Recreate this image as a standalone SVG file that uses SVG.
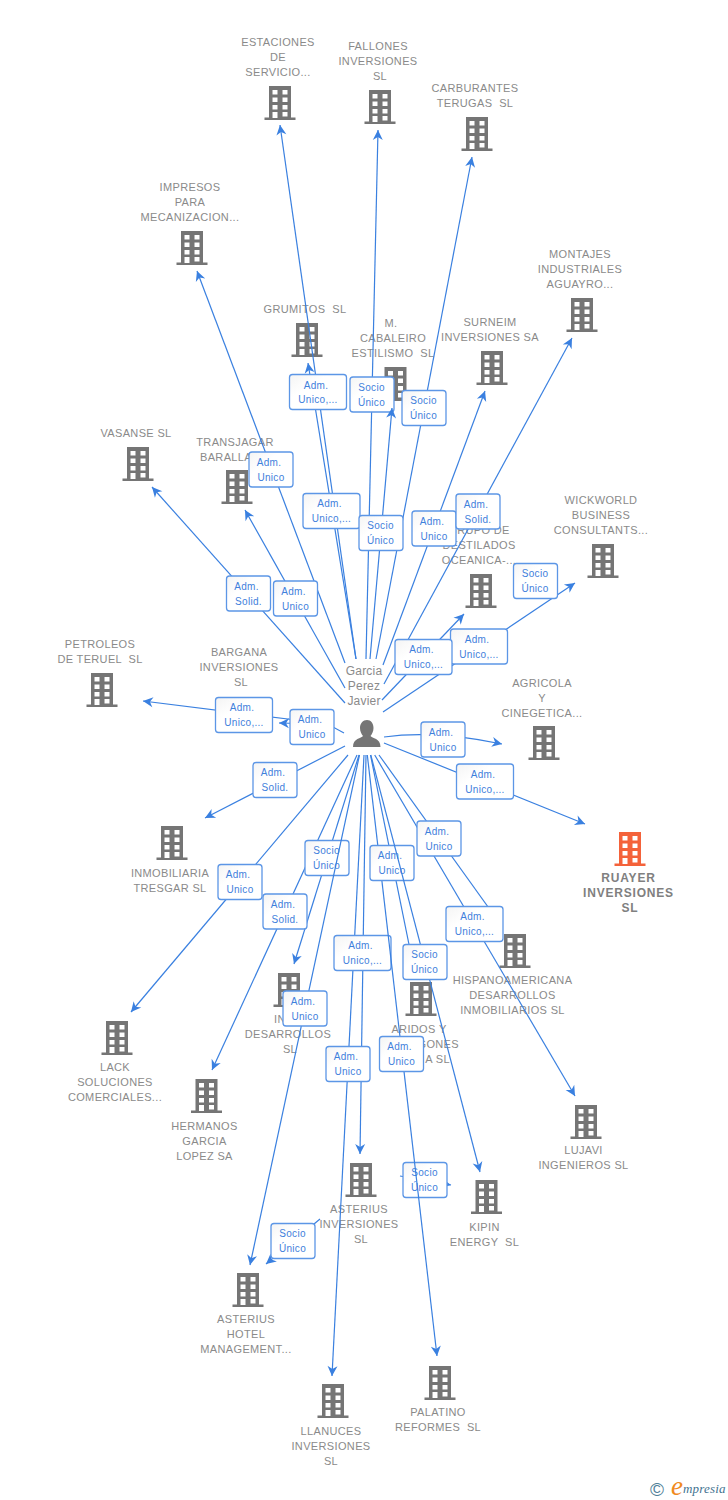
<svg xmlns="http://www.w3.org/2000/svg" width="728" height="1500" viewBox="0 0 728 1500">
<style>
text{font-family:"Liberation Sans",Arial,sans-serif;white-space:pre}
.n{fill:#757575}
.r{fill:#f4623a}
.n text{fill:#8a8a8a;font-size:11px;letter-spacing:.35px;text-anchor:middle}
.r text{fill:#808080;font-size:12px;font-weight:bold;letter-spacing:.8px;text-anchor:middle}
.c path{fill:none;stroke:#3a80e0;stroke-width:1.2;marker-end:url(#a)}
.c use{fill:url(#g);stroke:#5c96e6;stroke-width:1.3}
.c text{fill:#3f80dc;font-size:10px;letter-spacing:.3px;text-anchor:middle}
.p{fill:#8a8a8a;font-size:12px;text-anchor:middle;letter-spacing:.2px}
</style>
<defs>
<linearGradient id="g" x1="0" y1="0" x2="1" y2="1"><stop offset="0" stop-color="#f4f4f4"/><stop offset=".35" stop-color="#fff"/><stop offset="1" stop-color="#fff"/></linearGradient>
<marker id="a" markerUnits="userSpaceOnUse" markerWidth="12" markerHeight="12" refX="10" refY="5" orient="auto" overflow="visible"><path d="M10,5L0,0L3,5L0,10Z" fill="#3a80e0"/></marker>
<path id="b" fill-rule="evenodd" d="M-11,0H11V31.5H15.5V34H-15.5V31.5H-11ZM-7.5,4V8.5H-2.5V4ZM2.5,4V8.5H7.5V4ZM-7.5,11.500V16H-2.500V11.500ZM2.500,11.500V16H7.500V11.500ZM-7.500,19V23.500H-2.500V19ZM2.500,19V23.500H7.500V19ZM-7.500,26V32H-2.500V26ZM2.500,26V30.500H7.500V26Z"/>
<rect id="s" x="-22" y="-17.500" width="44" height="35" rx="3"/>
<rect id="w" x="-28.500" y="-17.500" width="57" height="35" rx="3"/>
</defs>
<rect width="728" height="1500" fill="#fff"/>

<g id="n-estaciones" class="n"><use href="#b" x="280" y="86"/><text x="278" y="46">ESTACIONES</text><text x="278" y="61">DE</text><text x="278" y="76">SERVICIO...</text></g>
<g id="n-fallones" class="n"><use href="#b" x="380" y="90"/><text x="378" y="50">FALLONES</text><text x="378" y="65">INVERSIONES</text><text x="380" y="80">SL</text></g>
<g id="n-carburantes" class="n"><use href="#b" x="477" y="117"/><text x="475" y="92">CARBURANTES</text><text x="475" y="107">TERUGAS  SL</text></g>
<g id="n-impresos" class="n"><use href="#b" x="192" y="231"/><text x="190" y="191">IMPRESOS</text><text x="190" y="206">PARA</text><text x="190" y="221">MECANIZACION...</text></g>
<g id="n-montajes" class="n"><use href="#b" x="582" y="298"/><text x="580" y="258">MONTAJES</text><text x="580" y="273">INDUSTRIALES</text><text x="580" y="288">AGUAYRO...</text></g>
<g id="n-grumitos" class="n"><use href="#b" x="307" y="323"/><text x="305" y="313">GRUMITOS  SL</text></g>
<g id="n-cabaleiro" class="n"><use href="#b" x="395.500" y="367"/><text x="391" y="327">M.</text><text x="393" y="342">CABALEIRO</text><text x="393" y="357">ESTILISMO  SL</text></g>
<g id="n-surneim" class="n"><use href="#b" x="492" y="351"/><text x="490" y="326">SURNEIM</text><text x="490" y="341">INVERSIONES SA</text></g>
<g id="n-vasanse" class="n"><use href="#b" x="138" y="447"/><text x="136" y="437">VASANSE SL</text></g>
<g id="n-transjagar" class="n"><use href="#b" x="237" y="470"/><text x="235" y="446">TRANSJAGAR</text><text x="200" y="461" style="text-anchor:start">BARALLA</text></g>
<g id="n-wickworld" class="n"><use href="#b" x="603" y="544"/><text x="601" y="504">WICKWORLD</text><text x="601" y="519">BUSINESS</text><text x="601" y="534">CONSULTANTS...</text></g>
<g id="n-grupo" class="n"><use href="#b" x="481" y="574"/><text x="479" y="534">GRUPO DE</text><text x="479" y="549">DESTILADOS</text><text x="479" y="564">OCEANICA-...</text></g>
<g id="n-petroleos" class="n"><use href="#b" x="102" y="673"/><text x="100" y="648">PETROLEOS</text><text x="100" y="663">DE TERUEL  SL</text></g>
<g id="n-bargana" class="n"><use href="#b" x="242" y="697"/><text x="239" y="656">BARGANA</text><text x="239" y="671">INVERSIONES</text><text x="241" y="686">SL</text></g>
<g id="n-agricola" class="n"><use href="#b" x="544" y="726"/><text x="542" y="687">AGRICOLA</text><text x="542" y="702">Y</text><text x="542" y="717">CINEGETICA...</text></g>
<g id="n-ruayer" class="r"><use href="#b" x="630" y="832"/><text x="628.500" y="882">RUAYER</text><text x="628.500" y="897">INVERSIONES</text><text x="630" y="912">SL</text></g>
<g id="n-inmobiliaria" class="n"><use href="#b" x="172" y="826"/><text x="170" y="877">INMOBILIARIA</text><text x="170" y="892">TRESGAR SL</text></g>
<g id="n-hispano" class="n"><use href="#b" x="515" y="934"/><text x="512.500" y="984">HISPANOAMERICANA</text><text x="512.500" y="999">DESARROLLOS</text><text x="512.500" y="1014">INMOBILIARIOS SL</text></g>
<g id="n-desarrollos" class="n"><use href="#b" x="289" y="973"/><text x="274" y="1023" style="text-anchor:start">IN</text><text x="288" y="1038">DESARROLLOS</text><text x="290" y="1053">SL</text></g>
<g id="n-aridos" class="n"><use href="#b" x="421" y="982"/><text x="419" y="1033">ARIDOS Y</text><text x="459" y="1048" style="text-anchor:end">GONES</text><text x="450" y="1063" style="text-anchor:end">A SL</text></g>
<g id="n-lack" class="n"><use href="#b" x="117" y="1021"/><text x="115" y="1071">LACK</text><text x="115" y="1086">SOLUCIONES</text><text x="115" y="1101">COMERCIALES...</text></g>
<g id="n-hermanos" class="n"><use href="#b" x="206.500" y="1079"/><text x="204.500" y="1130">HERMANOS</text><text x="204.500" y="1145">GARCIA</text><text x="204.500" y="1160">LOPEZ SA</text></g>
<g id="n-lujavi" class="n"><use href="#b" x="586" y="1105"/><text x="583.500" y="1154">LUJAVI</text><text x="583.500" y="1169">INGENIEROS SL</text></g>
<g id="n-asterius-inv" class="n"><use href="#b" x="361" y="1163"/><text x="359" y="1213">ASTERIUS</text><text x="359" y="1228">INVERSIONES</text><text x="361" y="1243">SL</text></g>
<g id="n-kipin" class="n"><use href="#b" x="486.500" y="1180"/><text x="484.500" y="1231">KIPIN</text><text x="484.500" y="1246">ENERGY  SL</text></g>
<g id="n-asterius-hotel" class="n"><use href="#b" x="248" y="1273"/><text x="246" y="1323">ASTERIUS</text><text x="246" y="1338">HOTEL</text><text x="246" y="1353">MANAGEMENT...</text></g>
<g id="n-llanuces" class="n"><use href="#b" x="333" y="1384"/><text x="331" y="1435">LLANUCES</text><text x="331" y="1450">INVERSIONES</text><text x="331" y="1465">SL</text></g>
<g id="n-palatino" class="n"><use href="#b" x="440" y="1366"/><text x="438" y="1416">PALATINO</text><text x="438" y="1431">REFORMES  SL</text></g>

<g id="n-garcia"><text class="p" x="364" y="675">Garcia</text><text class="p" x="364" y="690">Perez</text><text class="p" x="364" y="705">Javier</text>
<path fill="#757575" d="M367,720C371,720 373.500,723.500 373.500,728C373.500,731.500 372,734 370.500,736C372,738.500 380.500,738 380.500,747H353C353,738 361.500,738.500 363,736C361.500,734 360,731.500 360,728C360,723.500 363,720 367,720Z"/></g>

<g id="connectors" class="c">
<path d="M356,659L280,125"/>
<path d="M356,659L308,363"/>
<path d="M366,659L378,130"/>
<path d="M376,659L472,157"/>
<path d="M345,663L197,271"/>
<path d="M345,688L245,510"/>
<path d="M345,703L152,487"/>
<path d="M383,665L485,391"/>
<path d="M384,684L572,338"/>
<path d="M382,700L464,614"/>
<path d="M383,712L575,583"/>
<path d="M300,720.500L143,701"/>
<path d="M344,733L333,727L300,723.500L279,723"/>
<path d="M345,746L205,818"/>
<path d="M384,737Q435,730 502,744"/>
<path d="M384,743L585,824"/>
<path d="M348,755L131,1012"/>
<path d="M357,755L212,1070"/>
<path d="M359,755L294,964"/>
<path d="M364,755L332,1376"/>
<path d="M366,755L360,1154"/>
<path d="M370.500,755L415,974"/>
<path d="M374.700,755L575,1096"/>
<path d="M379,755L501,925"/>
<path d="M400,1176L451,1185"/>
<path d="M320,1219L266,1264"/>

<g transform="translate(318,392)"><use href="#w"/><text x="-2" y="-3.500">Adm.</text><text y="11">Unico,...</text></g>
<g transform="translate(372,394.500)"><use href="#s"/><text x="-.5" y="-4">Socio</text><text x="-.5" y="11">Único</text></g>
<g transform="translate(424,408)"><use href="#s"/><text x="-.5" y="-4">Socio</text><text x="-.5" y="11">Único</text></g>
<path d="M370,659L392,408"/>
<g transform="translate(271,469.500)"><use href="#s"/><text x="-2" y="-4">Adm.</text><text y="11">Unico</text></g>
<g transform="translate(331.500,511)"><use href="#w"/><text x="-2" y="-4">Adm.</text><text y="11">Unico,...</text></g>
<g transform="translate(381,533)"><use href="#s"/><text x="-.5" y="-4">Socio</text><text x="-.5" y="11">Único</text></g>
<g transform="translate(434,528.500)"><use href="#s"/><text x="-2" y="-4">Adm.</text><text y="11">Unico</text></g>
<g transform="translate(478,511.500)"><use href="#s"/><text x="-2" y="-4">Adm.</text><text y="11">Solid.</text></g>
<g transform="translate(535.500,581)"><use href="#s"/><text x="-.5" y="-4">Socio</text><text x="-.5" y="11">Único</text></g>
<g transform="translate(479,646.500)"><use href="#w"/><text x="-2" y="-4">Adm.</text><text y="11">Unico,...</text></g>
<g transform="translate(423.500,657)"><use href="#w"/><text x="-2" y="-4">Adm.</text><text y="11">Unico,...</text></g>
<g transform="translate(248.500,593.500)"><use href="#s"/><text x="-2" y="-4">Adm.</text><text y="11">Solid.</text></g>
<g transform="translate(295.500,598.500)"><use href="#s"/><text x="-2" y="-4">Adm.</text><text y="11">Unico</text></g>
<g transform="translate(244,715)"><use href="#w"/><text x="-2" y="-4">Adm.</text><text y="11">Unico,...</text></g>
<g transform="translate(312,727)"><use href="#s"/><text x="-2" y="-4">Adm.</text><text y="11">Unico</text></g>
<g transform="translate(443,739.500)"><use href="#s"/><text x="-2" y="-4">Adm.</text><text y="11">Unico</text></g>
<g transform="translate(485,781.500)"><use href="#w"/><text x="-2" y="-4">Adm.</text><text y="11">Unico,...</text></g>
<g transform="translate(275,780)"><use href="#s"/><text x="-2" y="-4">Adm.</text><text y="11">Solid.</text></g>
<g transform="translate(240,882)"><use href="#s"/><text x="-2" y="-4">Adm.</text><text y="11">Unico</text></g>
<g transform="translate(285,911.500)"><use href="#s"/><text x="-2" y="-4">Adm.</text><text y="11">Solid.</text></g>
<g transform="translate(327,858)"><use href="#s"/><text x="-.5" y="-4">Socio</text><text x="-.5" y="11">Único</text></g>
<g transform="translate(439,838.500)"><use href="#s"/><text x="-2" y="-4">Adm.</text><text y="11">Unico</text></g>
<g transform="translate(474.500,924)"><use href="#w"/><text x="-2" y="-4">Adm.</text><text y="11">Unico,...</text></g>
<g transform="translate(362.500,953)"><use href="#w"/><text x="-2" y="-4">Adm.</text><text y="11">Unico,...</text></g>
<g transform="translate(348,1064)"><use href="#s"/><text x="-2" y="-4">Adm.</text><text y="11">Unico</text></g>
<g transform="translate(425,1180)"><use href="#s"/><text x="-.5" y="-4">Socio</text><text x="-.5" y="11">Único</text></g>
<g transform="translate(293,1241)"><use href="#s"/><text x="-.5" y="-4">Socio</text><text x="-.5" y="11">Único</text></g>
<path d="M367.300,755L437,1356"/>
<g transform="translate(401.500,1054)"><use href="#s"/><text x="-2" y="-4">Adm.</text><text y="11">Unico</text></g>
<g transform="translate(392,863)"><use href="#s"/><text x="-2" y="-4">Adm.</text><text y="11">Unico</text></g>
<path d="M370.800,755L480,1172"/>
<g transform="translate(425,962)"><use href="#s"/><text x="-.5" y="-4">Socio</text><text x="-.5" y="11">Único</text></g>
<path d="M359.500,755L250,1265"/>
<g transform="translate(305,1008.500)"><use href="#s"/><text x="-2" y="-4">Adm.</text><text y="11">Unico</text></g>
</g>

<g id="credit">
<text x="650" y="1495.500" font-size="19" fill="#4f8098">©</text>
<text x="671" y="1495" font-size="27" font-style="italic" fill="#f08a1e" style="font-family:'Liberation Serif',serif">e</text>
<text x="683" y="1493" font-size="13" font-style="italic" fill="#3f7390" letter-spacing=".2" style="font-family:'Liberation Serif',serif">mpresia</text>
</g>
</svg>
